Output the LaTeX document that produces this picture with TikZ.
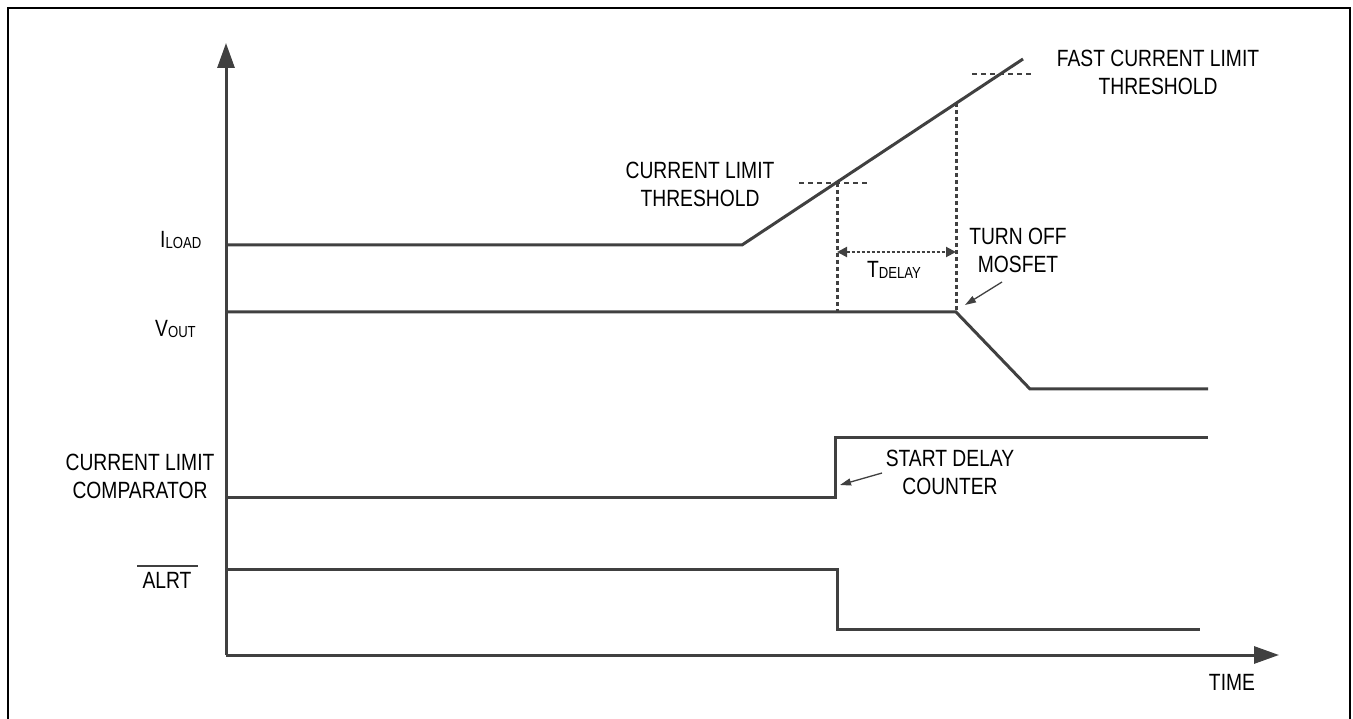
\documentclass[tikz,border=0pt]{standalone}
\usepackage{fontspec}
\setmainfont{Liberation Sans}[FakeStretch=0.82]
\usetikzlibrary{arrows.meta}
\definecolor{ln}{HTML}{404040}
\newcommand{\lsub}[1]{\raisebox{-1.5pt}{\fontsize{16}{16}\selectfont #1}}
\begin{document}
\begin{tikzpicture}[x=1pt,y=-1pt,
  sig/.style={draw=ln, line width=3pt, line join=miter},
  axisline/.style={draw=ln, line width=3pt, -{Triangle[length=25pt,width=17pt]}},
  thr/.style={draw=ln, line width=2.5pt, dash pattern=on 5pt off 4pt},
  vdot/.style={draw=ln, line width=3pt, dash pattern=on 4pt off 3pt},
  ann/.style={draw=ln, line width=1.3pt, -{Triangle[length=11pt,width=7pt]}},
  delayarr/.style={draw=ln, line width=2pt, dash pattern=on 3pt off 2pt, {Triangle[length=10pt,width=10pt]}-{Triangle[length=10pt,width=10pt]}},
  lbl/.style={inner sep=0pt, font=\fontsize{23.5}{28}\selectfont, align=center, text=black},
]
\useasboundingbox (0,0) rectangle (1353,719);
\draw[line width=1.5pt, black] (8,719) -- (8,8) -- (1350,8) -- (1350,719);

% axes
\coordinate (O) at (226,655);
\coordinate (ytip) at (226,43);
\coordinate (xtip) at (1279,655);
\draw[axisline] (O) -- (ytip);
\draw[axisline] (O) -- (xtip);

% I_LOAD
\coordinate (i0) at (226,245);
\coordinate (i1) at (742,245);
\coordinate (i2) at (1023,59);
\draw[sig] (i0) -- (i1) -- (i2);

% thresholds
\coordinate (t1a) at (799,183);
\coordinate (t1b) at (868,183);
\draw[thr] (t1a) -- (t1b);
\coordinate (t2a) at (972,74);
\coordinate (t2b) at (1033,74);
\draw[thr] (t2a) -- (t2b);

% V_OUT
\coordinate (v0) at (226,312);
\coordinate (v1) at (956,312);
\coordinate (v2) at (1030,389);
\coordinate (v3) at (1208,389);
\draw[sig] (v0) -- (v1) -- (v2) -- (v3);

% vertical dotted
\coordinate (d1t) at (837,183);
\coordinate (d1b) at (837,311);
\coordinate (d2t) at (956,103);
\coordinate (d2b) at (956,311);
\draw[vdot] (d1t) -- (d1b);
\draw[vdot] (d2t) -- (d2b);

% T_DELAY
\coordinate (tda) at (837,252);
\coordinate (tdb) at (956,252);
\draw[delayarr] (tda) -- (tdb);
\node[lbl] (tdl) at (894,270) {T\lsub{DELAY}};

% comparator
\coordinate (c0) at (226,497);
\coordinate (c1) at (835,497);
\coordinate (c2) at (835,437);
\coordinate (c3) at (1208,437);
\draw[sig] (c0) -- (c1) -- (c2) -- (c3);

% ALRT
\coordinate (a0) at (226,569);
\coordinate (a1) at (837,569);
\coordinate (a2) at (837,629);
\coordinate (a3) at (1200,629);
\draw[sig] (a0) -- (a1) -- (a2) -- (a3);

% labels
\node[lbl, anchor=west] (il) at (160,240) {I\lsub{LOAD}};
\node[lbl, anchor=west] (vl) at (155,329) {V\lsub{OUT}};
\node[lbl] (cl) at (140,476) {CURRENT LIMIT\\COMPARATOR};
\node[lbl] (al) at (167,580) {ALRT};
\draw[ln, line width=1.8pt] (137,566) -- (198,566);
\node[lbl] (ctl) at (700,184) {CURRENT LIMIT\\THRESHOLD};
\node[lbl] (ftl) at (1158,72) {FAST CURRENT LIMIT\\THRESHOLD};
\node[lbl] (tol) at (1018,250) {TURN OFF\\MOSFET};
\node[lbl] (sdl) at (950,472) {START DELAY\\COUNTER};
\node[lbl] (time) at (1232,682) {TIME};

% annotation arrows
\coordinate (toa) at (1002,282);
\coordinate (tot) at (965,305);
\draw[ann] (toa) -- (tot);
\coordinate (sda) at (882,473);
\coordinate (sdt) at (840,485);
\draw[ann] (sda) -- (sdt);
\end{tikzpicture}
\end{document}
